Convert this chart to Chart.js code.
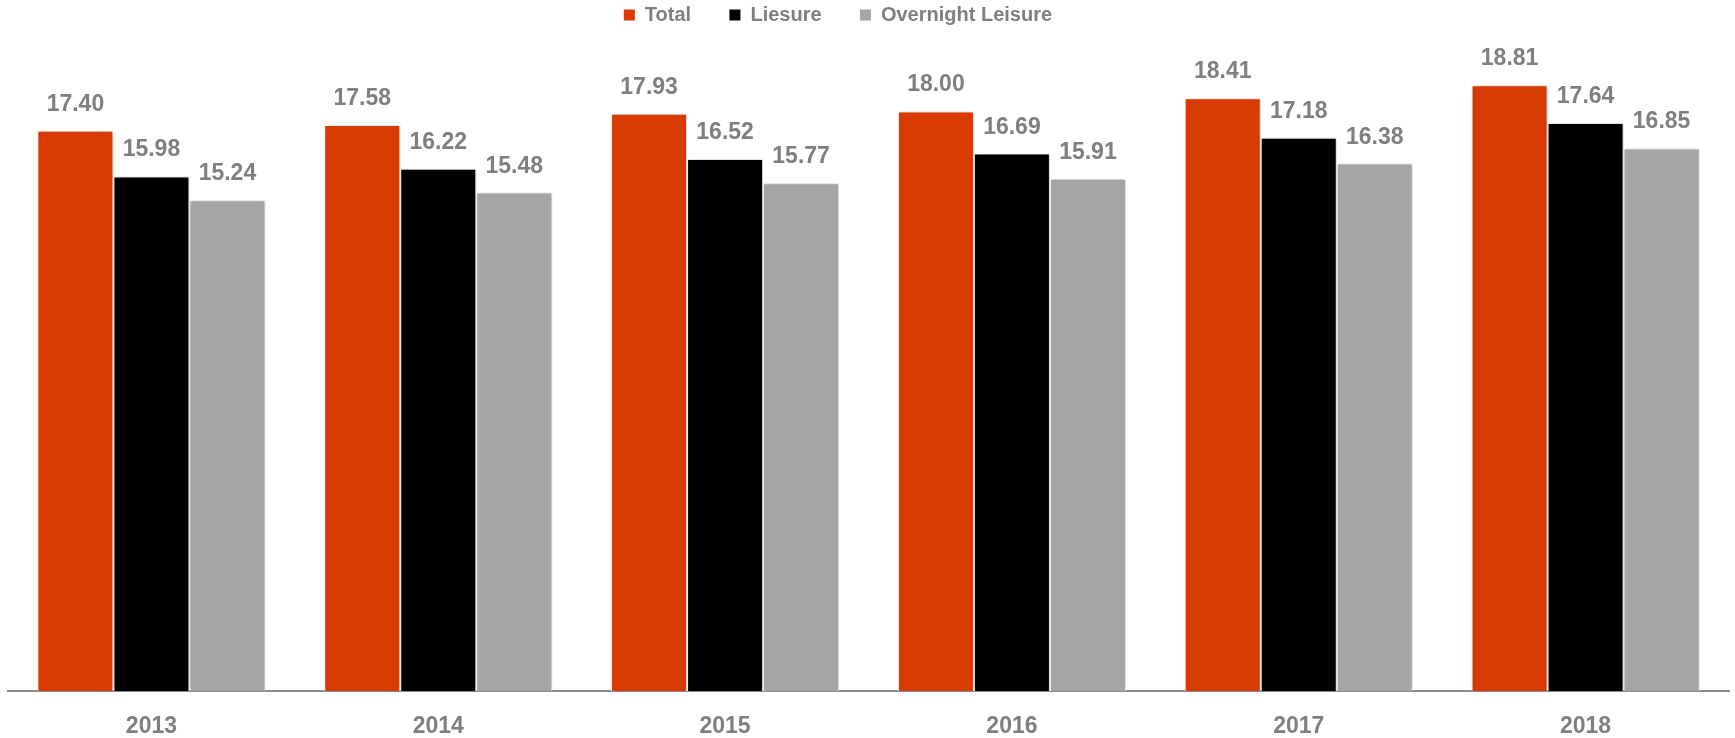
<!DOCTYPE html>
<html>
<head>
<meta charset="utf-8">
<script src="https://cdn.jsdelivr.net/npm/chart.js@4.4.1/dist/chart.umd.min.js"></script>
<style>
  html, body { margin: 0; padding: 0; background: #ffffff; }
  #wrap { width: 1735px; height: 738px; position: relative; }
</style>
</head>
<body>
<div id="wrap"><canvas id="c" width="1735" height="738"></canvas></div>
<script>
const categories = ["2013", "2014", "2015", "2016", "2017", "2018"];
const totalValues = [17.40, 17.58, 17.93, 18.00, 18.41, 18.81];
const liesureValues = [15.98, 16.22, 16.52, 16.69, 17.18, 17.64];
const overnightValues = [15.24, 15.48, 15.77, 15.91, 16.38, 16.85];
const seriesNames = ["Total", "Liesure", "Overnight Leisure"];

const FONT = "'Liberation Sans', Arial, sans-serif";
const TEXT_GRAY = "#7f7f7f";

const valueLabels = {
  id: 'valueLabels',
  afterDatasetsDraw(chart) {
    const ctx = chart.ctx;
    ctx.save();
    ctx.font = "bold 23px " + FONT;
    ctx.fillStyle = TEXT_GRAY;
    ctx.textAlign = 'center';
    ctx.textBaseline = 'alphabetic';
    chart.data.datasets.forEach((ds, i) => {
      const meta = chart.getDatasetMeta(i);
      meta.data.forEach((bar, j) => {
        ctx.fillText(ds.data[j].toFixed(2), bar.x, bar.y - 20);
      });
    });
    ctx.restore();
  }
};

const barShadow = {
  id: 'barShadow',
  beforeDatasetsDraw(chart) {
    const ctx = chart.ctx;
    ctx.save();
    ctx.shadowColor = 'rgba(0,0,0,0.25)';
    ctx.shadowBlur = 6;
    ctx.shadowOffsetX = 1;
    ctx.shadowOffsetY = 0;
  },
  afterDatasetsDraw(chart) {
    chart.ctx.restore();
  }
};

const legendHeight = {
  id: 'legendHeight',
  beforeInit(chart) {
    const lg = chart.legend;
    if (!lg) return;
    const origFit = lg.fit;
    lg.fit = function () {
      origFit.call(this);
      this.height = 47;
    };
  }
};

new Chart(document.getElementById('c'), {
  type: 'bar',
  data: {
    labels: categories,
    datasets: [
      { label: seriesNames[0], data: totalValues, backgroundColor: '#d83b01', borderColor: '#ffffff', borderWidth: 1 },
      { label: seriesNames[1], data: liesureValues, backgroundColor: '#000000', borderColor: '#ffffff', borderWidth: 1 },
      { label: seriesNames[2], data: overnightValues, backgroundColor: '#a5a5a5', borderColor: '#ffffff', borderWidth: 1 }
    ]
  },
  options: {
    responsive: false,
    animation: false,
    devicePixelRatio: 1,
    layout: { padding: { left: 8, right: 6, top: 0, bottom: 0 } },
    datasets: { bar: { categoryPercentage: 0.795, barPercentage: 1.0 } },
    plugins: {
      legend: {
        position: 'top',
        align: 'center',
        labels: {
          boxWidth: 11,
          boxHeight: 11,
          padding: 5,
          color: TEXT_GRAY,
          font: { family: FONT, size: 20, weight: 'bold' },
          generateLabels(chart) {
            return chart.data.datasets.map((ds, i) => ({
              text: ds.label + (i === chart.data.datasets.length - 1 ? '           ' : '      '),
              fillStyle: ds.backgroundColor,
              strokeStyle: ds.backgroundColor,
              lineWidth: 0,
              hidden: false,
              datasetIndex: i,
              fontColor: TEXT_GRAY
            }));
          }
        }
      },
      tooltip: { enabled: false }
    },
    scales: {
      x: {
        grid: { display: false, drawTicks: false },
        border: { display: true, color: '#8c8c8c', width: 2 },
        ticks: {
          color: TEXT_GRAY,
          font: { family: FONT, size: 23, weight: 'bold' },
          padding: 22
        },
        afterFit(scale) { scale.height = 47; }
      },
      y: {
        display: false,
        min: 0,
        max: 20
      }
    }
  },
  plugins: [legendHeight, barShadow, valueLabels]
});
</script>
</body>
</html>
